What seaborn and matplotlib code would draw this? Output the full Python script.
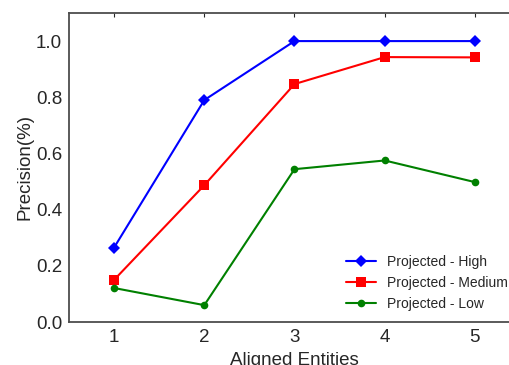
import matplotlib
matplotlib.use("Agg")
import matplotlib.pyplot as plt
import pandas as pd
import seaborn as sns

entities = [1, 2, 3, 4, 5]
high = [0.265, 0.79, 1.0, 1.0, 1.0]
medium = [0.15, 0.487, 0.847, 0.943, 0.942]
low = [0.121, 0.06, 0.544, 0.575, 0.498]
series_names = ["Projected - High", "Projected - Medium", "Projected - Low"]

sns.set_style("white")
plt.rcParams["font.family"] = ["Liberation Sans", "DejaVu Sans"]

df = pd.DataFrame({
    "entities": entities * 3,
    "precision": high + medium + low,
    "series": [n for n in series_names for _ in entities],
})

fig = plt.figure(figsize=(5.1, 3.65), dpi=100)
ax = fig.add_axes([0.1353, 0.1178, 0.8843, 0.8466])

palette = {series_names[0]: "blue", series_names[1]: "red", series_names[2]: "green"}
markers = {series_names[0]: "D", series_names[1]: "s", series_names[2]: "o"}
sizes = {series_names[0]: 6, series_names[1]: 7, series_names[2]: 5.5}

for name in series_names:
    sub = df[df["series"] == name]
    sns.lineplot(data=sub, x="entities", y="precision", ax=ax, color=palette[name],
                 marker=markers[name], markersize=sizes[name], markeredgewidth=0,
                 linewidth=1.5, label=name)

ax.set_xlim(0.5, 5.5)
ax.set_ylim(0, 1.1)
ax.set_xticks(entities)
ax.set_yticks([0.0, 0.2, 0.4, 0.6, 0.8, 1.0])
ax.set_yticklabels(["0.0", "0.2", "0.4", "0.6", "0.8", "1.0"])
ax.tick_params(direction="in", length=3, top=True, right=True, labelsize=13.5,
               colors=".15", pad=5)
for sp in ax.spines.values():
    sp.set_color(".3")
    sp.set_linewidth(1.3)
ax.set_xlabel("Aligned Entities", fontsize=13.5, color=".15", labelpad=4)
ax.set_ylabel("Precision(%)", fontsize=13.5, color=".15", labelpad=2)
ax.legend(loc="lower right", bbox_to_anchor=(1.0, -0.005), frameon=False, fontsize=10,
          handlelength=2.1, labelspacing=0.5)

fig.savefig("out.png", dpi=100)
